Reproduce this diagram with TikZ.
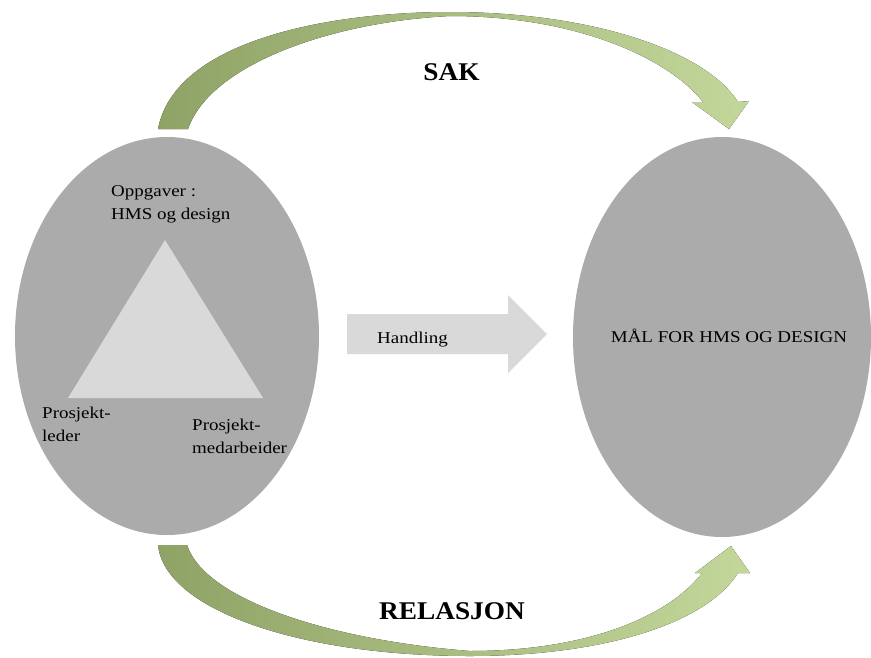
\documentclass[tikz,border=0pt]{standalone}
\usepackage{fontspec}
\setmainfont{Liberation Serif}
\newfontfamily\bodyfont[FakeStretch=1.15]{Liberation Serif}
\newfontfamily\headfont[FakeStretch=1.07]{Liberation Serif}
\usetikzlibrary{shapes.geometric}
\definecolor{ovalgray}{RGB}{171,171,171}
\definecolor{trigray}{RGB}{217,217,217}
\definecolor{greendark}{RGB}{143,163,102}
\definecolor{greenlight}{RGB}{196,215,155}
\begin{document}
\begin{tikzpicture}[x=1pt,y=-1pt,
  oval/.style={ellipse, fill=ovalgray, inner sep=0pt, draw=none},
  bodytext/.style={font=\bodyfont\fontsize{16.5}{23}\selectfont, inner sep=0pt, align=left, text=black},
  headtext/.style={font=\headfont\bfseries\fontsize{25.5}{30}\selectfont, inner sep=0pt, text=black},
  greenarrow/.style={left color=greendark, right color=greenlight, draw=none},
  lightshape/.style={fill=trigray, draw=none}]
\useasboundingbox (0,0) rectangle (871,657);
\fill[white] (0,0) rectangle (871,657);

% ovals
\node[oval, minimum width=304pt, minimum height=398pt] (left) at (167,336) {};
\node[oval, minimum width=298pt, minimum height=400pt] (right) at (722,337) {};

% triangle
\coordinate (apex) at (165,240);
\coordinate (bl) at (68,398);
\coordinate (br) at (263,398);
\fill[lightshape] (apex) -- (bl) -- (br) -- cycle;

% Handling arrow
\fill[lightshape] (347,314) -- (508,314) -- (508,295) -- (547,334) -- (508,373) -- (508,354) -- (347,354) -- cycle;
\node[bodytext, anchor=base west] (handling) at (377,343) {Handling};

% top curved arrow (SAK)
\coordinate (toptip) at (729,129);
\fill[greenarrow] (158,129) .. controls (175,40) and (330,12) .. (450,12)
  .. controls (590,12) and (705,50) .. (738,102)
  -- (749,101) -- (toptip) -- (692,102) -- (703,102)
  .. controls (670,60) and (580,16) .. (450,16)
  .. controls (330,22) and (210,65) .. (188,129) -- cycle;

% bottom curved arrow (RELASJON)
\coordinate (bottip) at (731,546);
\fill[greenarrow] (158,545) .. controls (165,610) and (300,656) .. (470,656)
  .. controls (600,656) and (705,625) .. (738,573)
  -- (750,573) -- (bottip) -- (695,573) -- (702,573)
  .. controls (670,615) and (590,651) .. (470,651)
  .. controls (330,640) and (205,600) .. (187,545) -- cycle;

% texts
\node[bodytext, anchor=west] (task) at (111,204) {Oppgaver :\\HMS og design};
\node[bodytext, anchor=west] (leader) at (42,424.5) {Prosjekt-\\leder};
\node[bodytext, anchor=west] (member) at (192,436.4) {Prosjekt-\\medarbeider};
\node[bodytext, anchor=base] (goal) at (729,342) {MÅL FOR HMS OG DESIGN};
\node[headtext, anchor=base] (sak) at (451.5,80) {SAK};
\node[headtext, anchor=base] (rel) at (452,619) {RELASJON};
\end{tikzpicture}
\end{document}
